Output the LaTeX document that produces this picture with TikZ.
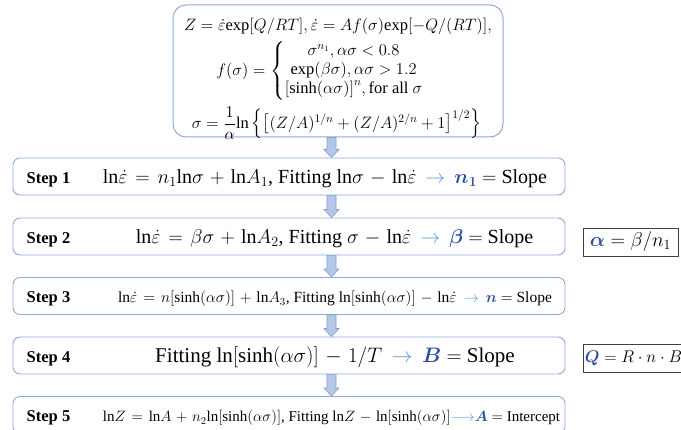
\documentclass[tikz,border=0pt]{standalone}
\usepackage{fix-cm}
\usepackage{amsmath,amssymb,bm}
\usepackage{fontspec}
\setmainfont{Liberation Serif}
\usetikzlibrary{calc}
\usetikzlibrary{positioning}

\definecolor{boxline}{HTML}{8FAADC}
\definecolor{arrowfill}{HTML}{B4C7E7}
\definecolor{arrowline}{HTML}{7F9FD4}
\definecolor{tipblue}{HTML}{5B9BD5}
\definecolor{varblue}{HTML}{2F52A3}

\newcommand{\res}[1]{\textcolor{varblue}{$\bm{#1}$}}
\newcommand{\goesto}{\hspace{0.45em}\textcolor{tipblue}{$\rightarrow$}\hspace{0.45em}}

\begin{document}
\begin{tikzpicture}[
    x=1pt, y=-1pt,
    % Define the styles for the boxes
    topbox/.style={draw=boxline, line width=1pt, rounded corners=13pt, minimum width=330pt, minimum height=132pt},
    stepbox/.style={draw=boxline, line width=0.9pt, rounded corners=7pt, minimum width=552pt, minimum height=37pt, inner sep=0pt},
    sidebox/.style={draw=black!75, line width=0.8pt, minimum height=28pt, inner sep=0pt},
    % Define the styles for the texts
    steplabel/.style={anchor=base west, inner sep=0pt, font=\fontsize{16.5}{19}\selectfont\bfseries},
    eqn/.style={anchor=base, inner sep=0pt,
        execute at begin node={\thickmuskip=7mu plus 5mu\medmuskip=5.5mu plus 2mu}},
    % Define the style for the block arrows
    flow/.style={draw=arrowline, fill=arrowfill, line width=0.6pt}
]

    % --- Page size ---
    \useasboundingbox (0,0) rectangle (681,430);
    \clip (0,0) rectangle (681,430);

    % --- Model box ---
    \node[topbox] (model) at (338,71) {};
    \node[inner sep=0pt, anchor=base, font=\fontsize{16.5}{18}\selectfont] (rate) at (338,31)
        {$Z=\dot{\varepsilon}\mathrm{exp}[Q/RT],\dot{\varepsilon}=Af(\sigma)\mathrm{exp}[-Q/(RT)],$};
    \node[inner sep=0pt, font=\fontsize{16.5}{19}\selectfont] (law) at (320,71)
        {$f(\sigma)=\left\{\begin{array}{@{}c@{}}
            \sigma^{n_1},\alpha\sigma<0.8\\
            \mathrm{exp}(\beta\sigma),\alpha\sigma>1.2\\
            {[\sinh(\alpha\sigma)]}^{n},\text{for all }\sigma
        \end{array}\right.$};
    \node[inner sep=0pt, font=\fontsize{16.5}{18}\selectfont] (stress) at (336.5,123)
        {$\sigma=\dfrac{1}{\alpha}\mathrm{ln}\left\{\left[(Z/A)^{1/n}+(Z/A)^{2/n}+1\right]^{1/2}\right\}$};

    % --- Steps ---
    \foreach \i/\y in {1/176.5, 2/236.5, 3/296, 4/355.5, 5/415} {
        \node[stepbox] (s\i) at (289,\y) {};
        \node[steplabel] (l\i) at ($(s\i.west)+(14,7)$) {Step \i};
    }

    \node[eqn, font=\fontsize{20}{22}\selectfont] (e1) at ($(s1.center)+(36,7)$)
        {$\mathrm{ln}\dot{\varepsilon}=n_1\mathrm{ln}\sigma+\mathrm{ln}A_1$, Fitting $\mathrm{ln}\sigma-\mathrm{ln}\dot{\varepsilon}$\goesto\res{n_1} $=$ Slope};
    \node[eqn, font=\fontsize{20}{22}\selectfont] (e2) at ($(s2.center)+(45.5,7)$)
        {$\mathrm{ln}\dot{\varepsilon}=\beta\sigma+\mathrm{ln}A_2$, Fitting $\sigma-\mathrm{ln}\dot{\varepsilon}$\goesto\res{\beta} $=$ Slope};
    \node[eqn, font=\fontsize{15.5}{17}\selectfont] (e3) at ($(s3.center)+(46,7)$)
        {$\mathrm{ln}\dot{\varepsilon}=n[\sinh(\alpha\sigma)]+\mathrm{ln}A_3$, Fitting $\mathrm{ln}[\sinh(\alpha\sigma)]-\mathrm{ln}\dot{\varepsilon}$\goesto\res{n} $=$ Slope};
    \node[eqn, font=\fontsize{21}{23}\selectfont] (e4) at ($(s4.center)+(46,7)$)
        {Fitting $\mathrm{ln}[\sinh(\alpha\sigma)]-1/T$\goesto\res{B} $=$ Slope};
    \node[eqn, font=\fontsize{15}{17}\selectfont] (e5) at ($(s5.center)+(42.5,7)$)
        {$\mathrm{ln}Z=\mathrm{ln}A+n_2\mathrm{ln}[\sinh(\alpha\sigma)]$, Fitting $\mathrm{ln}Z-\mathrm{ln}[\sinh(\alpha\sigma)]$\textcolor{tipblue}{$\longrightarrow$}\res{A} $=$ Intercept};

    % --- Side results ---
    \node[sidebox, minimum width=95pt, font=\fontsize{20}{22}\selectfont] (ratio) at (630.5,242)
        {\res{\alpha}$\;=\beta/n_1$};
    \node[sidebox, minimum width=101pt, font=\fontsize{17}{19}\selectfont] (energy) at (633.5,358)
        {\res{Q}$\;=R\cdot n\cdot B$};

    % --- Block arrows between the boxes ---
    \coordinate (axis) at (331.5,0);
    \foreach \src/\dst in {model/s1, s1/s2, s2/s3, s3/s4, s4/s5} {
        \draw[flow] ($(\src.south -| axis)+(-4.5,0)$) -- ($(\dst.north -| axis)+(-4.5,-8)$)
            -- ++(-3,0) -- (\dst.north -| axis) -- ($(\dst.north -| axis)+(7.5,-8)$)
            -- ++(-3,0) -- ($(\src.south -| axis)+(4.5,0)$) -- cycle;
    }

\end{tikzpicture}
\end{document}
